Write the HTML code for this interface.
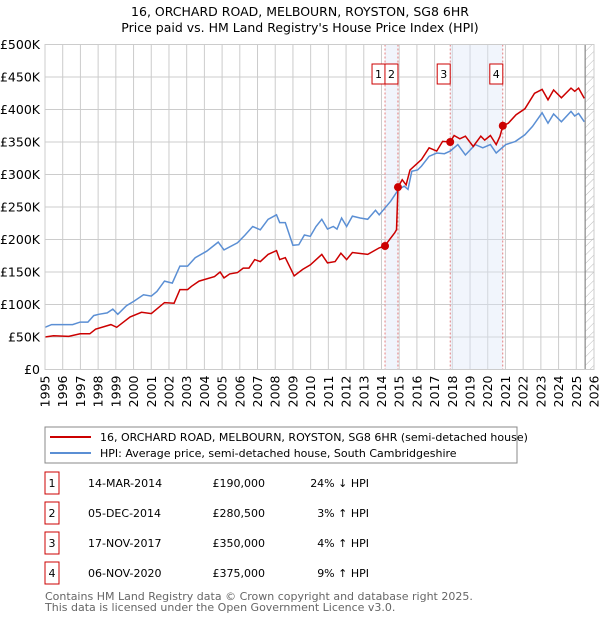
<!DOCTYPE html>
<html><head><meta charset="utf-8"><style>
body{margin:0;background:#fff;font-family:"Liberation Sans","DejaVu Sans",sans-serif;}
svg text{font-family:"DejaVu Sans","Liberation Sans",sans-serif;}
</style></head><body>
<svg id="c" width="600" height="620" viewBox="0 0 600 620" xmlns="http://www.w3.org/2000/svg">
<text x="300" y="16" text-anchor="middle" font-size="12.5" fill="#000">16, ORCHARD ROAD, MELBOURN, ROYSTON, SG8 6HR</text>
<text x="300" y="32" text-anchor="middle" font-size="12.5" fill="#000">Price paid vs. HM Land Registry's House Price Index (HPI)</text>
<defs><pattern id="hatch" width="6" height="6" patternUnits="userSpaceOnUse" patternTransform="rotate(45)"><line x1="0" y1="0" x2="0" y2="6" stroke="#bbb" stroke-width="1"/></pattern></defs>
<g id="grid"></g><g id="shade"></g><g id="series"></g><g id="marks"></g><g id="axes"></g>
<rect x="45" y="427" width="472" height="36" fill="#fff" stroke="#888"/>
<line x1="50" y1="437" x2="91" y2="437" stroke="#cc0000" stroke-width="2"/>
<text x="100" y="441" font-size="11">16, ORCHARD ROAD, MELBOURN, ROYSTON, SG8 6HR (semi-detached house)</text>
<line x1="50" y1="453" x2="91" y2="453" stroke="#5b8fd4" stroke-width="2"/>
<text x="100" y="457" font-size="11">HPI: Average price, semi-detached house, South Cambridgeshire</text>
<g id="table" font-size="11"></g>
<text x="45" y="600" font-size="11" fill="#666">Contains HM Land Registry data © Crown copyright and database right 2025.</text>
<text x="45" y="611" font-size="11" fill="#666">This data is licensed under the Open Government Licence v3.0.</text>
</svg>
<script>
const hpiYears=[1995,1995.37,1996.02,1996.56,1996.99,1997.42,1997.75,1998.03,1998.51,1998.83,1999.11,1999.59,2000.02,2000.56,2001.0,2001.32,2001.75,2002.19,2002.62,2003.05,2003.48,2004.13,2004.78,2005.11,2005.87,2006.3,2006.73,2007.16,2007.6,2008.07,2008.25,2008.57,2009.0,2009.33,2009.65,2009.98,2010.3,2010.63,2010.95,2011.28,2011.49,2011.75,2012.03,2012.36,2012.79,2013.22,2013.66,2013.87,2014.18,2014.52,2014.96,2015.28,2015.5,2015.71,2016.04,2016.26,2016.69,2017.12,2017.55,2017.88,2018.31,2018.74,2019.29,2019.72,2020.15,2020.48,2021.02,2021.56,2022.1,2022.53,2023.07,2023.4,2023.72,2024.16,2024.7,2024.91,2025.13,2025.45];
const hpiValues=[65,69,69,69,73,73,83,85,87,93,85,98,105,115,113,120,136,133,159,159,172,182,196,184,195,207,220,215,231,238,226,226,191,192,207,205,220,231,216,220,216,233,220,236,233,231,245,238,248,259,277,282,277,305,307,313,328,333,332,336,346,330,346,341,346,333,346,351,361,374,395,379,393,381,397,390,394,381];
const priceYears=[1995,1995.48,1996.34,1996.99,1997.53,1997.86,1998.72,1999.05,1999.81,2000.45,2001.0,2001.75,2002.29,2002.62,2003.05,2003.27,2003.7,2004.57,2004.89,2005.11,2005.43,2005.87,2006.19,2006.52,2006.84,2007.16,2007.6,2008.07,2008.25,2008.57,2009.07,2009.55,2009.98,2010.63,2010.95,2011.38,2011.71,2012.03,2012.36,2013.22,2013.87,2014.18,2014.74,2014.85,2014.93,2015.17,2015.39,2015.61,2015.93,2016.26,2016.69,2017.12,2017.45,2017.88,2018.1,2018.42,2018.74,2019.18,2019.61,2019.83,2020.15,2020.48,2020.69,2020.85,2021.16,2021.6,2022.1,2022.64,2023.07,2023.4,2023.72,2024.16,2024.7,2024.91,2025.13,2025.45];
const priceValues=[50,52,51,55,55,62,69,65,81,88,86,103,102,123,123,128,136,143,150,141,147,149,156,156,169,166,177,183,169,172,144,154,161,177,164,166,179,169,180,177,187,190,210,215,280.5,292,284,307,315,323,341,336,351,350,360,355,359,343,359,353,360,346,359,375,379,392,401,425,431,415,430,418,433,428,433,417];
const saleYears=[2014.2,2014.93,2017.88,2020.85];
const saleValues=[190,280.5,350,375];
const saleLabels=["1","2","3","4"];
const saleDates=["14-MAR-2014","05-DEC-2014","17-NOV-2017","06-NOV-2020"];
const salePrices=["£190,000","£280,500","£350,000","£375,000"];
const saleHpi=["24% ↓ HPI","3% ↑ HPI","4% ↑ HPI","9% ↑ HPI"];
const yTicks=[0,50,100,150,200,250,300,350,400,450,500];
const yTickLabels=["£0","£50K","£100K","£150K","£200K","£250K","£300K","£350K","£400K","£450K","£500K"];
const xTicks=[1995,1996,1997,1998,1999,2000,2001,2002,2003,2004,2005,2006,2007,2008,2009,2010,2011,2012,2013,2014,2015,2016,2017,2018,2019,2020,2021,2022,2023,2024,2025,2026];
const dataEnd=2025.5;

const X0=45,X1=594,Y0=369.5,Y1=44.5;
const xs=y=>X0+(y-1995)/(2026-1995)*(X1-X0);
const ys=v=>Y0-v/500*(Y0-Y1);
const NS="http://www.w3.org/2000/svg";
function mk(p,t,a){const e=document.createElementNS(NS,t);for(const k in a)e.setAttribute(k,a[k]);document.getElementById(p).appendChild(e);return e;}
let e;
e=mk('grid','rect',{x:X0,y:Y1,width:X1-X0,height:Y0-Y1,fill:'#fff'});


yTicks.forEach((v,i)=>{
 e=mk('grid','line',{x1:X0,x2:X1,y1:ys(v),y2:ys(v),stroke:'#ccc','stroke-width':1});
 
 
 e=mk('axes','text',{x:X0-5,y:ys(v)+4.5,'text-anchor':'end','font-size':12.5});
 e.textContent=yTickLabels[i];
 
 
});
xTicks.forEach(v=>{
 e=mk('grid','line',{x1:xs(v),x2:xs(v),y1:Y1,y2:Y0,stroke:'#ccc','stroke-width':1});
 
 
 e=mk('axes','text',{x:0,y:0,'text-anchor':'end','font-size':12.5,transform:`translate(${xs(v)+4.5},${Y0+6}) rotate(-90)`});
 e.textContent=v;
 
 
});
// shaded periods
[[0,1],[2,3]].forEach(p=>{
 e=mk('shade','rect',{x:xs(saleYears[p[0]]),y:Y1,width:xs(saleYears[p[1]])-xs(saleYears[p[0]]),height:Y0-Y1,fill:'#dde7f8','fill-opacity':0.4});
 
 
});
e=mk('shade','rect',{x:xs(dataEnd),y:Y1,width:X1-xs(dataEnd),height:Y0-Y1,fill:'url(#hatch)'});


e=mk('shade','line',{x1:xs(dataEnd),x2:xs(dataEnd),y1:Y1,y2:Y0,stroke:'#888','stroke-width':1.2});


saleYears.forEach(v=>{
 e=mk('shade','line',{x1:xs(v),x2:xs(v),y1:Y1,y2:Y0,stroke:'#e06060','stroke-width':0.8,'stroke-dasharray':'2,2'});
 
 
});
function pts(a,b){return a.map((y,i)=>xs(y).toFixed(1)+','+ys(b[i]).toFixed(1)).join(' ');}
e=mk('series','polyline',{points:pts(hpiYears,hpiValues),fill:'none',stroke:'#5b8fd4','stroke-width':1.5});


e=mk('series','polyline',{points:pts(priceYears,priceValues),fill:'none',stroke:'#cc0000','stroke-width':1.5});


mk('axes','rect',{x:X0,y:Y1,width:X1-X0,height:Y0-Y1,fill:'none',stroke:'#ccc'});
saleYears.forEach((v,i)=>{
 e=mk('marks','circle',{cx:xs(v),cy:ys(saleValues[i]),r:4,fill:'#cc0000'});
 
 
 const bx=(i==0)?xs(v)-13:(i==1?xs(v)-13:xs(v)-13);
 e=mk('marks','rect',{x:bx,y:64,width:13,height:20,fill:'#fff',stroke:'#cc0000'});
 
 
 e=mk('marks','text',{x:bx+6.5,y:78,'text-anchor':'middle','font-size':11});
 e.textContent=saleLabels[i];
 
 
});
saleLabels.forEach((l,i)=>{
 const cy=483+i*30;
 e=mk('table','rect',{x:45,y:cy-11,width:14,height:22,fill:'#fff',stroke:'#cc0000'});
 
 
 e=mk('table','text',{x:52,y:cy+4,'text-anchor':'middle'});e.textContent=l;
 
 
 e=mk('table','text',{x:88,y:cy+4});e.textContent=saleDates[i];
 
 
 e=mk('table','text',{x:265,y:cy+4,'text-anchor':'end'});e.textContent=salePrices[i];
 
 
 e=mk('table','text',{x:369,y:cy+4,'text-anchor':'end'});e.textContent=saleHpi[i];
 
 
});
</script>
</body></html>
